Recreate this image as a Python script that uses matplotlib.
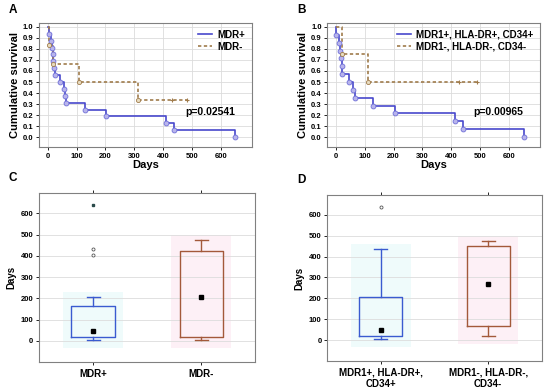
import numpy as np
import matplotlib
matplotlib.use("Agg")
from matplotlib import pyplot as plt

plt.rcParams['font.family'] = ['Liberation Sans', 'DejaVu Sans']
plt.rcParams['font.weight'] = 'bold'
plt.rcParams['axes.labelweight'] = 'bold'

# Kaplan-Meier step data (time in days, survival)
a_pos_t = [0, 3, 10, 15, 18, 20, 22, 25, 43, 57, 60, 65, 128, 203, 409, 439, 651]
a_pos_s = [1.0, 0.9375, 0.875, 0.8125, 0.75, 0.6875, 0.625, 0.5625, 0.5, 0.4375,
           0.375, 0.3125, 0.25, 0.1875, 0.125, 0.0625, 0.0]
a_neg_t = [0, 4, 20, 110, 314, 483]
a_neg_s = [1.0, 0.8333, 0.6667, 0.5, 0.3333, 0.3333]
a_neg_cens_t = [431, 483]
a_neg_cens_s = [0.3333, 0.3333]

b_pos_t = [0, 2, 12, 14, 19, 20, 22, 44, 60, 66, 130, 206, 412, 441, 651]
b_pos_s = [1.0, 0.9286, 0.8571, 0.7857, 0.7143, 0.6429, 0.5714, 0.5, 0.4286,
           0.3571, 0.2857, 0.2143, 0.1429, 0.0714, 0.0]
b_neg_t = [0, 22, 110, 488]
b_neg_s = [1.0, 0.75, 0.5, 0.5]
b_neg_cens_t = [427, 488]
b_neg_cens_s = [0.5, 0.5]

# box plot summary (days)
c_labels = ['MDR+', 'MDR-']
c_med = [47, 207]
c_q1 = [20, 20]
c_q3 = [165, 425]
c_lo = [5, 5]
c_hi = [205, 475]
c_out = [[405, 432], []]
c_ext = [[640], []]

d_labels = ['MDR1+, HLA-DR+,\nCD34+', 'MDR1-, HLA-DR-,\nCD34-']
d_med = [48, 268]
d_q1 = [20, 65]
d_q3 = [205, 450]
d_lo = [5, 20]
d_hi = [435, 475]
d_out = [[640], []]
d_ext = [[], []]

blue = '#4848cc'
brown = '#a07c4c'
box_cols = ['#3a5bd0', '#a3593a']
halo_cols = ['#effbfb', '#fdf0f6']

fig = plt.figure(figsize=(5.5, 3.91), dpi=100)


def km_panel(rect, letter, pos_t, pos_s, neg_t, neg_s, cens_t, cens_s, labels, ptext):
    ax = fig.add_axes(rect)
    ax.step(pos_t, pos_s, where='post', color=blue, lw=1.2, label=labels[0], zorder=3)
    ax.plot(pos_t[1:], pos_s[1:], 'o', ms=3.5, mfc='#b8b4ec', mec='#7070d8', mew=0.6, zorder=4)
    ax.step(neg_t, neg_s, where='post', color=brown, lw=1.2, ls=(0, (2, 1.5)),
            label=labels[1], zorder=3)
    ax.plot(neg_t[1:-1], neg_s[1:-1], 'o', ms=3, mfc='#e8dcc0', mec=brown, mew=0.6, zorder=4)
    ax.plot(cens_t, cens_s, '+', ms=3.5, color=brown, mew=0.8, zorder=4)
    ax.set_xlim(-30, 708)
    ax.set_ylim(-0.09, 1.035)
    ax.set_xticks(np.arange(0, 700, 100))
    ax.set_yticks(np.arange(0, 1.01, 0.1))
    ax.set_yticklabels(['%.1f' % v for v in np.arange(0, 1.01, 0.1)])
    ax.grid(True, color='#dcdcdc', lw=0.6)
    ax.tick_params(labelsize=5.5, length=2, width=0.6, pad=2)
    for s in ax.spines.values():
        s.set_color('#808080')
        s.set_linewidth(0.8)
    ax.set_xlabel('Days', fontsize=8, labelpad=0)
    ax.set_ylabel('Cumulative survival', fontsize=8, labelpad=2)
    ax.legend(loc='upper right', prop=dict(size=7, weight='bold'), frameon=False,
              handlelength=1.5, handletextpad=0.5, borderaxespad=0.3, labelspacing=0.2)
    ax.text(0.92, 0.28, ptext, transform=ax.transAxes, ha='right', va='center',
            fontsize=7.5, weight='bold')
    fig.text(rect[0] - 0.055, rect[1] + rect[3] + 0.025, letter, fontsize=8.5, weight='bold')
    return ax


def box_panel(rect, letter, labels, med, q1, q3, lo, hi, out, ext):
    ax = fig.add_axes(rect)
    for i in range(len(labels)):
        c = box_cols[i]
        ax.fill_between([i + 0.72, i + 1.28], lo[i] - 40, hi[i] + 25,
                        color=halo_cols[i], lw=0, zorder=0.5)
        st = dict(med=med[i], q1=q1[i], q3=q3[i], whislo=lo[i], whishi=hi[i],
                  fliers=out[i], label=labels[i])
        ax.bxp([st], positions=[i + 1], widths=0.4, showfliers=False,
               boxprops=dict(color=c, lw=1.0), whiskerprops=dict(color=c, lw=1.0),
               capprops=dict(color=c, lw=1.0), medianprops=dict(visible=False),
               capwidths=0.12, manage_ticks=False)
        ax.plot(i + 1, med[i], 's', ms=3, color='black', zorder=5)
        if out[i]:
            ax.plot([i + 1] * len(out[i]), out[i], 'o', ms=2.2, mfc='white', mec='#555555', mew=0.6)
        if ext[i]:
            ax.plot([i + 1] * len(ext[i]), ext[i], 's', ms=1.8, color='#2a4a4a')
    ax.set_xlim(0.5, 2.5)
    ax.set_ylim(-100, 695)
    ax.set_xticks([1, 2])
    ax.set_xticklabels(labels, fontsize=7, weight='bold')
    ax.set_yticks(np.arange(0, 700, 100))
    ax.tick_params(axis='y', labelsize=5.5, length=2, width=0.6, pad=2)
    ax.tick_params(axis='x', length=2, width=0.6, pad=3, top=True)
    ax.grid(True, axis='y', color='#dcdcdc', lw=0.6)
    ax.set_axisbelow(True)
    for s in ax.spines.values():
        s.set_color('#808080')
        s.set_linewidth(0.8)
    ax.set_ylabel('Days', fontsize=7, labelpad=3)
    fig.text(rect[0] - 0.055, rect[1] + rect[3] + 0.03, letter, fontsize=8.5, weight='bold')
    return ax


km_panel([0.071, 0.624, 0.387, 0.317], 'A', a_pos_t, a_pos_s, a_neg_t, a_neg_s,
         a_neg_cens_t, a_neg_cens_s, ['MDR+', 'MDR-'], 'p=0.02541')
km_panel([0.595, 0.624, 0.387, 0.317], 'B', b_pos_t, b_pos_s, b_neg_t, b_neg_s,
         b_neg_cens_t, b_neg_cens_s, ['MDR1+, HLA-DR+, CD34+', 'MDR1-, HLA-DR-, CD34-'],
         'p=0.00965')
box_panel([0.071, 0.074, 0.393, 0.432], 'C', c_labels, c_med, c_q1, c_q3, c_lo, c_hi, c_out, c_ext)
box_panel([0.595, 0.077, 0.390, 0.424], 'D', d_labels, d_med, d_q1, d_q3, d_lo, d_hi, d_out, d_ext)

fig.savefig('out.png', dpi=100)
